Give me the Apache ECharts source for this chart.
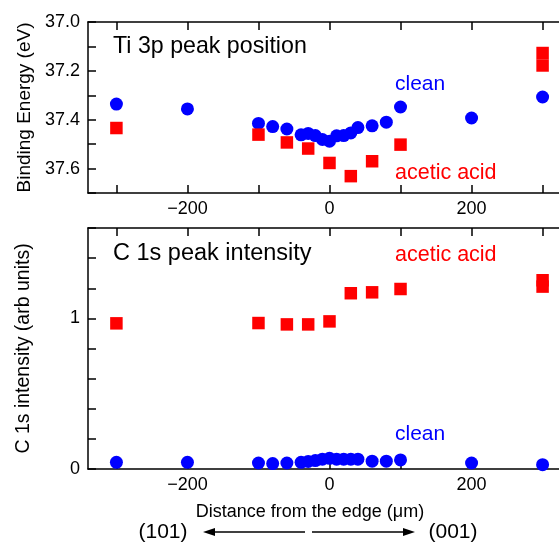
<!DOCTYPE html>
<html>
<head>
<meta charset="utf-8">
<script src="https://cdn.jsdelivr.net/npm/echarts@6/dist/echarts.min.js"></script>
<style>html,body{margin:0;padding:0;background:#fff}#c{width:559px;height:544px}</style>
</head>
<body>
<div id="c"></div>
<script>
// ---- data ----
const xClean = [-300, -200, -100, -80, -60, -40, -30, -20, -10, 0, 10, 20, 30, 40, 60, 80, 100, 200, 300];
const bindingClean = [37.336, 37.356, 37.415, 37.428, 37.438, 37.462, 37.456, 37.465, 37.481, 37.488, 37.466, 37.465, 37.454, 37.432, 37.425, 37.410, 37.348, 37.393, 37.307];
const xAcetic = [-300, -100, -60, -30, 0, 30, 60, 100, 300, 300];
const bindingAcetic = [37.434, 37.461, 37.493, 37.518, 37.577, 37.631, 37.570, 37.502, 37.127, 37.178];
const c1sClean = [0.044, 0.044, 0.040, 0.036, 0.040, 0.044, 0.050, 0.056, 0.065, 0.071, 0.065, 0.065, 0.065, 0.065, 0.052, 0.052, 0.060, 0.040, 0.029];
const c1sAcetic = [0.967, 0.969, 0.960, 0.960, 0.980, 1.167, 1.173, 1.195, 1.253, 1.211];

const xTickValues = [-300, -200, -100, 0, 100, 200, 300];
const xTickLabels = [-200, 0, 200];
const beTickValues = [37.0, 37.1, 37.2, 37.3, 37.4, 37.5, 37.6, 37.7];
const beTickLabels = [37.0, 37.2, 37.4, 37.6];
const c1sTickValues = [0, 0.2, 0.4, 0.6, 0.8, 1.0, 1.2, 1.4, 1.6];
const c1sTickLabels = [0, 1];

// ---- styling ----
const FONT = '"Liberation Sans", Arial, Helvetica, sans-serif';
const BLUE = '#0000ff', RED = '#ff0000';
const axisLineStyle = { color: '#000', width: 1.5 };

function fmtX(v) { return v < 0 ? '\u2212' + Math.abs(v) : String(v); }

function xAxisPair(grid) {
  const base = {
    gridIndex: grid, type: 'value', min: -340, max: 340,
    axisLine: { show: true, onZero: false, lineStyle: axisLineStyle },
    axisTick: { show: true, inside: true, length: 8, lineStyle: axisLineStyle, customValues: xTickValues },
    splitLine: { show: false }
  };
  return [
    Object.assign({}, base, {
      position: 'bottom',
      axisLabel: { customValues: xTickLabels, formatter: fmtX, margin: 7, fontSize: 18, color: '#000', fontFamily: FONT }
    }),
    Object.assign({}, base, { position: 'top', axisLabel: { show: false } })
  ];
}

function yAxisBase(grid) {
  return {
    gridIndex: grid, type: 'value', position: 'left', nameLocation: 'middle', nameGap: 54,
    nameTextStyle: { fontSize: 19, color: '#000', fontFamily: FONT },
    axisLine: { show: true, onZero: false, lineStyle: axisLineStyle },
    splitLine: { show: false }
  };
}

const chart = echarts.init(document.getElementById('c'), null, { renderer: 'canvas' });

const option = {
  animation: false,
  backgroundColor: '#fff',
  grid: [
    { left: 88, top: 22, width: 483, height: 171, containLabel: false, outerBoundsMode: 'none' },
    { left: 88, top: 228, width: 483, height: 241, containLabel: false, outerBoundsMode: 'none' }
  ],
  xAxis: [].concat(xAxisPair(0), xAxisPair(1)),
  yAxis: [
    Object.assign(yAxisBase(0), {
      min: 37.0, max: 37.7, inverse: true, name: 'Binding Energy (eV)',
      axisTick: { show: true, inside: true, length: 8, lineStyle: axisLineStyle, customValues: beTickValues },
      axisLabel: { customValues: beTickLabels, formatter: v => v.toFixed(1), margin: 8, fontSize: 18, color: '#000', fontFamily: FONT }
    }),
    Object.assign(yAxisBase(1), {
      min: 0, max: 1.6, name: 'C 1s intensity (arb units)',
      nameTextStyle: { fontSize: 19.5, color: '#000', fontFamily: FONT },
      axisTick: { show: true, inside: true, length: 8, lineStyle: axisLineStyle, customValues: c1sTickValues },
      axisLabel: { customValues: c1sTickLabels, formatter: v => String(Math.round(v)), margin: 8, fontSize: 18, color: '#000', fontFamily: FONT }
    })
  ],
  series: [
    { type: 'scatter', xAxisIndex: 0, yAxisIndex: 0, symbol: 'circle', symbolSize: 13,
      itemStyle: { color: BLUE, opacity: 1 }, data: xClean.map((x, i) => [x, bindingClean[i]]) },
    { type: 'scatter', xAxisIndex: 0, yAxisIndex: 0, symbol: 'rect', symbolSize: 12.5,
      itemStyle: { color: RED, opacity: 1 }, data: xAcetic.map((x, i) => [x, bindingAcetic[i]]) },
    { type: 'scatter', xAxisIndex: 2, yAxisIndex: 1, symbol: 'circle', symbolSize: 13,
      itemStyle: { color: BLUE, opacity: 1 }, data: xClean.map((x, i) => [x, c1sClean[i]]) },
    { type: 'scatter', xAxisIndex: 2, yAxisIndex: 1, symbol: 'rect', symbolSize: 12.5,
      itemStyle: { color: RED, opacity: 1 }, data: xAcetic.map((x, i) => [x, c1sAcetic[i]]) }
  ],
  graphic: [
    { type: 'text', left: 113, top: 35, style: { text: 'Ti 3p peak position', font: '23.2px ' + FONT, fill: '#000' } },
    { type: 'text', left: 395, top: 74, style: { text: 'clean', font: '21px ' + FONT, fill: BLUE } },
    { type: 'text', left: 395, top: 162, style: { text: 'acetic acid', font: '21.5px ' + FONT, fill: RED } },
    { type: 'text', left: 113, top: 242, style: { text: 'C 1s peak intensity', font: '23.5px ' + FONT, fill: '#000' } },
    { type: 'text', left: 395, top: 244, style: { text: 'acetic acid', font: '21.5px ' + FONT, fill: RED } },
    { type: 'text', left: 395, top: 424, style: { text: 'clean', font: '21px ' + FONT, fill: BLUE } },
    { type: 'text', x: 310, y: 512, style: { text: 'Distance from the edge (\u03bcm)', font: '18px ' + FONT, fill: '#000', align: 'center', verticalAlign: 'middle' } },
    { type: 'text', x: 163, y: 532, style: { text: '(101)', font: '21px ' + FONT, fill: '#000', align: 'center', verticalAlign: 'middle' } },
    { type: 'text', x: 453, y: 532, style: { text: '(001)', font: '21px ' + FONT, fill: '#000', align: 'center', verticalAlign: 'middle' } },
    { type: 'line', shape: { x1: 305, y1: 532, x2: 212, y2: 532 }, style: { stroke: '#000', lineWidth: 1.3 } },
    { type: 'polygon', shape: { points: [[203, 532], [215, 528], [215, 536]] }, style: { fill: '#000' } },
    { type: 'line', shape: { x1: 312, y1: 532, x2: 406, y2: 532 }, style: { stroke: '#000', lineWidth: 1.3 } },
    { type: 'polygon', shape: { points: [[415, 532], [403, 528], [403, 536]] }, style: { fill: '#000' } }
  ]
};
chart.setOption(option);
</script>
</body>
</html>
